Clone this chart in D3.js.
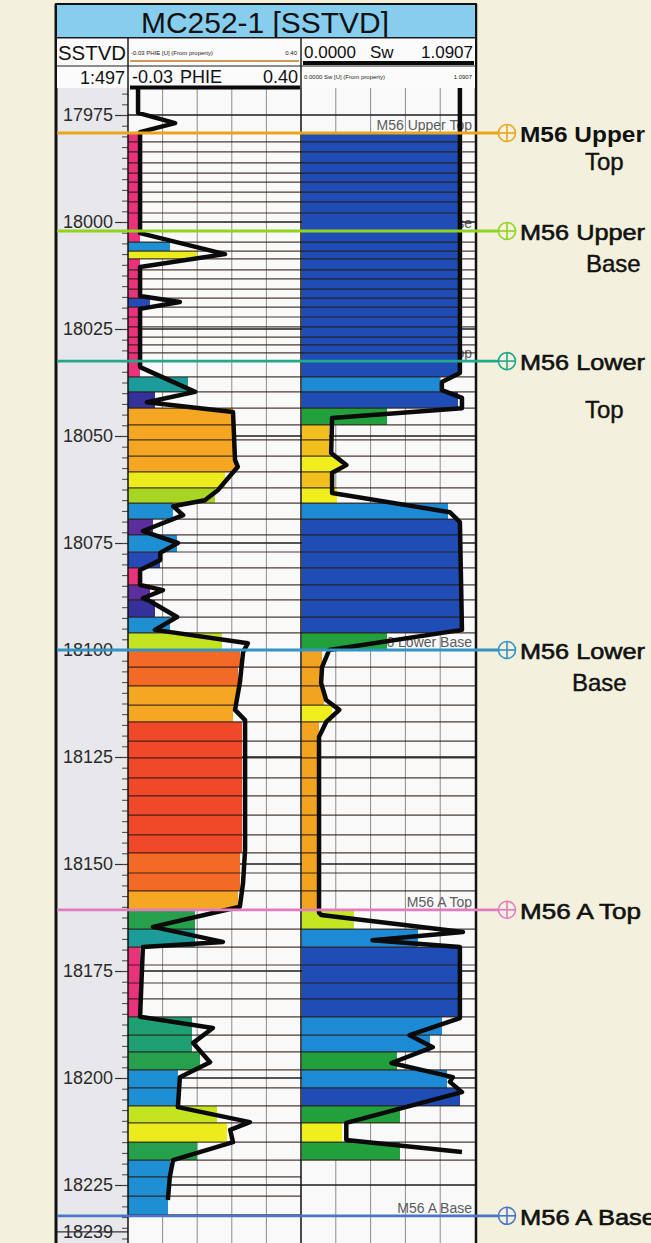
<!DOCTYPE html>
<html>
<head>
<meta charset="utf-8">
<script src="https://cdn.jsdelivr.net/npm/d3@7"></script>
<style>
  html, body { margin: 0; padding: 0; background: #f3f1dd; }
  svg { display: block; font-family: "Liberation Sans", Arial, sans-serif; }
</style>
</head>
<body>
<svg id="chart" width="651" height="1243"></svg>
<script>
// ---------- well MC252-1, zone layers (top depth in ft SSTVD) ----------
const layerTops = [
  17979.2, 17981.3, 17983.6, 17986.2, 17988.6, 17990.7, 17993.0, 17995.3, 17997.9, 18002.1,
  18004.7, 18006.8, 18008.6, 18011.2, 18013.3, 18015.7, 18017.8, 18019.9, 18022.2, 18024.5,
  18026.9, 18028.7, 18030.6, 18032.5, 18036.2, 18039.7, 18043.5, 18047.4, 18050.9, 18054.7,
  18058.4, 18062.1, 18065.7, 18069.4, 18073.1, 18077.1, 18080.8, 18084.8, 18088.3, 18092.3,
  18096.0, 18100.0, 18104.0, 18108.4, 18112.9, 18116.8, 18121.3, 18125.2, 18129.9, 18134.1,
  18138.6, 18143.2, 18147.4, 18152.1, 18156.3, 18160.7, 18165.2, 18169.4, 18173.6, 18177.8,
  18181.5, 18185.7, 18190.0, 18193.9, 18198.1, 18202.3, 18206.5, 18210.5, 18215.0, 18219.2,
  18223.1, 18227.6
];
const layerBase = 18232.0;

// upscaled PHIE per layer and its colour-table bin
const phieLayer = [
  0, 0, 0, 0, 0, 0, 0, 0, 0, 0,
  0.074, 0.142, 0, 0, 0, 0, 0.025, 0, 0, 0,
  0, 0, 0, 0, 0.119, 0.037, 0.231, 0.231, 0.234, 0.236,
  0.211, 0.186, 0.082, 0.032, 0.092, 0.050, 0, 0.025, 0.037, 0.074,
  0.204, 0.248, 0.243, 0.241, 0.231, 0.253, 0.253, 0.253, 0.253, 0.253,
  0.253, 0.253, 0.248, 0.248, 0.243, 0.137, 0.137, 0, 0, 0,
  0, 0.129, 0.129, 0.149, 0.094, 0.094, 0.191, 0.216, 0.142, 0.074,
  0.074, 0.069
];
const phieBin = [
  0, 0, 0, 0, 0, 0, 0, 0, 0, 0,
  4, 10, 0, 0, 0, 0, 3, 0, 0, 0,
  0, 0, 0, 0, 5, 2, 11, 11, 11, 11,
  10, 8, 4, 1, 4, 3, 0, 1, 2, 4,
  9, 12, 12, 11, 11, 13, 13, 13, 13, 13,
  13, 13, 12, 12, 11, 7, 5, 0, 0, 0,
  0, 6, 6, 7, 4, 4, 9, 10, 7, 4,
  4, 4
];

// upscaled Sw per layer and its colour-table bin
const swLayer = [
  0.985, 0.985, 0.985, 0.985, 0.985, 0.985, 0.985, 0.985, 0.985, 0.985,
  0.985, 0.985, 0.985, 0.985, 0.985, 0.985, 0.985, 0.985, 0.985, 0.985,
  0.985, 0.985, 0.985, 0.985, 0.870, 0.985, 0.536, 0.177, 0.177, 0.252,
  0.189, 0.227, 0.920, 0.996, 0.996, 0.996, 0.996, 0.996, 0.996, 0.996,
  0.542, 0.132, 0.132, 0.145, 0.195, 0.113, 0.113, 0.113, 0.113, 0.113,
  0.113, 0.113, 0.113, 0.113, 0.113, 0.334, 0.731, 0.996, 0.996, 0.996,
  0.996, 0.883, 0.807, 0.599, 0.914, 0.996, 0.618, 0.258, 0.618, null,
  null, null
];
const swBin = [
  6, 6, 6, 6, 6, 6, 6, 6, 6, 6,
  6, 6, 6, 6, 6, 6, 6, 6, 6, 6,
  6, 6, 6, 6, 5, 6, 4, 1, 1, 2,
  1, 2, 5, 6, 6, 6, 6, 6, 6, 6,
  4, 0, 0, 0, 2, 0, 0, 0, 0, 0,
  0, 0, 0, 0, 0, 3, 5, 6, 6, 6,
  6, 5, 5, 4, 5, 6, 4, 2, 4, null,
  null, null
];

// PHIE log samples (depth, value)
const phieDepth = [
  17968.7, 17974.5, 17976.9, 17979.0, 18002.6, 18007.5, 18010.5, 18017.3, 18018.7, 18020.3,
  18033.9, 18039.7, 18042.1, 18044.4, 18055.6, 18057.2, 18059.8, 18062.6, 18065.0, 18066.4,
  18068.5, 18072.2, 18075.0, 18077.3, 18079.0, 18081.3, 18084.8, 18086.0, 18087.9, 18088.6,
  18092.3, 18095.3, 18098.4, 18100.5, 18107.7, 18114.0, 18116.4, 18146.7, 18154.4, 18160.0,
  18164.7, 18168.2, 18169.4, 18185.7, 18188.3, 18191.8, 18196.3, 18199.8, 18206.8, 18210.3,
  18212.1, 18215.0, 18219.2, 18223.1, 18228.5
];
const phieValue = [
  -0.005, -0.005, 0.087, 0.0, 0.0, 0.211, 0.0, 0.0, 0.099, 0.0,
  0.0, 0.137, 0.017, 0.231, 0.236, 0.243, 0.219, 0.194, 0.161, 0.082,
  0.107, 0.007, 0.094, 0.050, 0.050, 0.0, 0.0, 0.057, 0.007, 0.025,
  0.092, 0.037, 0.268, 0.256, 0.248, 0.236, 0.261, 0.261, 0.256, 0.248,
  0.032, 0.206, 0.007, 0.0, 0.181, 0.132, 0.174, 0.099, 0.094, 0.273,
  0.224, 0.231, 0.082, 0.074, 0.069
];

// Sw log samples (depth, value)
const swDepth = [
  17968.7, 18035.3, 18037.4, 18039.3, 18041.1, 18043.5, 18045.8, 18054.0, 18056.8, 18058.6,
  18063.3, 18067.8, 18070.1, 18095.3, 18100.0, 18104.0, 18107.7, 18111.7, 18114.0, 18116.8,
  18120.3, 18161.4, 18161.9, 18165.9, 18167.8, 18169.4, 18186.0, 18190.0, 18192.8, 18196.5,
  18199.8, 18200.9, 18203.3, 18210.5, 18214.5, 18217.3
];
const swValue = [
  0.996, 0.996, 0.883, 0.883, 1.009, 1.009, 0.195, 0.189, 0.284, 0.195,
  0.195, 0.933, 0.996, 1.009, 0.177, 0.132, 0.126, 0.158, 0.240, 0.158,
  0.113, 0.113, 0.126, 1.015, 0.448, 0.996, 0.996, 0.681, 0.826, 0.567,
  0.952, 0.933, 1.009, 0.284, 0.284, 1.009
];

// well tops
const topNames  = ["M56 Upper Top", "M56 Upper Base", "M56 Lower Top", "M56 Lower Base", "M56 A Top", "M56 A Base"];
const topDepths = [17979.2, 18002.1, 18032.5, 18100.0, 18160.7, 18232.2];

// depth axis
const depthTicks = [17975, 18000, 18025, 18050, 18075, 18100, 18125, 18150, 18175, 18200, 18225];
const depthBottom = 18239;

// ---------- colour tables ----------
const phiePalette = ["#e8327c", "#5b2e9c", "#35309a", "#2649b5", "#1e8fd2", "#1b9c9a", "#1fa074",
                     "#26a04c", "#a9d623", "#c4e41f", "#ecec1c", "#f5a623", "#f26a25", "#f0492a"];
const swPalette = ["#f2a420", "#f2c01e", "#f0ee1c", "#c4e622", "#22a03c", "#1d8ad6", "#1f4db5"];
const topColors = ["#e9a51c", "#8fd41e", "#22a88a", "#3394c6", "#e27cc0", "#4a76c6"];

const phieColor = d3.scaleOrdinal().domain(d3.range(phiePalette.length)).range(phiePalette);
const swColor = d3.scaleOrdinal().domain(d3.range(swPalette.length)).range(swPalette);
const topColor = d3.scaleOrdinal().domain(topNames).range(topColors);

// ---------- layout ----------
const frameL = 56, frameR = 476;
const depthL = 57, depthR = 128;
const phieL = 128, phieR = 301;
const swL = 301, swR = 475;
const trackTop = 88, trackBottom = 1243;

const y = d3.scaleLinear().domain([17975, 18225]).range([115, 1185]);
const xPhie = d3.scaleLinear().domain([-0.03, 0.40]).range([phieL, phieR]);
const xSw = d3.scaleLinear().domain([0, 1.0907]).range([swL, swR]);

const layers = layerTops.map((t, i) => ({
  top: t,
  base: i < layerTops.length - 1 ? layerTops[i + 1] : layerBase,
  phie: phieLayer[i], phieBin: phieBin[i],
  sw: swLayer[i], swBin: swBin[i]
}));
const phieLog = phieDepth.map((d, i) => ({ d, v: phieValue[i] }));
const swLog = swDepth.map((d, i) => ({ d, v: swValue[i] }));
const tops = topNames.map((n, i) => ({ name: n, depth: topDepths[i] }));

const svg = d3.select("#chart");

// page background
svg.append("rect").attr("width", 651).attr("height", 1243).attr("fill", "#f3f1dd");

// track backgrounds
svg.append("rect").attr("x", depthL).attr("y", trackTop).attr("width", depthR - depthL)
  .attr("height", trackBottom - trackTop).attr("fill", "#e8e8ec");
svg.append("rect").attr("x", phieL).attr("y", trackTop).attr("width", swR - phieL)
  .attr("height", trackBottom - trackTop).attr("fill", "#f9f9fa");

// vertical grid
const grid = svg.append("g").attr("stroke", "#8c8c8c").attr("stroke-width", 1);
grid.selectAll(".gp").data(d3.range(1, 5)).join("line")
  .attr("x1", i => phieL + (phieR - phieL) * i / 5).attr("x2", i => phieL + (phieR - phieL) * i / 5)
  .attr("y1", trackTop).attr("y2", trackBottom);
grid.selectAll(".gs").data(d3.range(1, 5)).join("line")
  .attr("x1", i => swL + (swR - swL) * i / 5).attr("x2", i => swL + (swR - swL) * i / 5)
  .attr("y1", trackTop).attr("y2", trackBottom);

// well-top names inside the Sw track
svg.append("g").selectAll("text").data(tops).join("text")
  .attr("x", swR - 3).attr("y", d => y(d.depth) - 3)
  .attr("text-anchor", "end").attr("font-size", 14).attr("fill", "#5c5c5c")
  .text(d => d.name);

// depth grid lines across the tracks
svg.append("g").selectAll("line").data(depthTicks).join("line")
  .attr("x1", phieL).attr("x2", swR)
  .attr("y1", d => y(d)).attr("y2", d => y(d))
  .attr("stroke", "#1c1c1c").attr("stroke-width", 1.4);

// layer fills
const fills = svg.append("g").attr("shape-rendering", "crispEdges");
fills.selectAll(".fp").data(layers).join("rect")
  .attr("x", phieL).attr("y", d => y(d.top))
  .attr("width", d => xPhie(d.phie) - phieL)
  .attr("height", d => y(d.base) - y(d.top))
  .attr("fill", d => phieColor(d.phieBin));
fills.selectAll(".fs").data(layers.filter(d => d.sw !== null)).join("rect")
  .attr("x", swL + 1).attr("y", d => y(d.top))
  .attr("width", d => xSw(d.sw) - swL - 1)
  .attr("height", d => y(d.base) - y(d.top))
  .attr("fill", d => swColor(d.swBin));

// layer boundaries
const lb = svg.append("g").attr("stroke", "#2a1a10").attr("stroke-opacity", 0.85).attr("stroke-width", 1.2);
const phieEdges = Array.from(new Set(layers.flatMap(d => [d.top, d.base])));
const swEdges = Array.from(new Set(layers.filter(d => d.sw !== null).flatMap(d => [d.top, d.base])));
lb.selectAll(".lp").data(phieEdges).join("line")
  .attr("x1", phieL).attr("x2", phieR).attr("y1", d => y(d)).attr("y2", d => y(d));
lb.selectAll(".ls").data(swEdges).join("line")
  .attr("x1", swL).attr("x2", swR).attr("y1", d => y(d)).attr("y2", d => y(d));

// logs
svg.append("path").datum(phieLog)
  .attr("d", d3.line().x(d => xPhie(d.v)).y(d => y(d.d)))
  .attr("fill", "none").attr("stroke", "#0a0a0a").attr("stroke-width", 4.5).attr("stroke-linejoin", "round");
svg.append("path").datum(swLog)
  .attr("d", d3.line().x(d => xSw(d.v)).y(d => y(d.d)))
  .attr("fill", "none").attr("stroke", "#0a0a0a").attr("stroke-width", 4.5).attr("stroke-linejoin", "round");

// depth axis
const axis = svg.append("g").attr("transform", `translate(${depthR},0)`)
  .call(d3.axisLeft(y).tickValues(depthTicks).tickSize(13).tickPadding(2).tickFormat(d3.format("d")));
axis.select(".domain").remove();
axis.selectAll("line").attr("stroke", "#333").attr("stroke-width", 1.2);
axis.selectAll("text").attr("font-size", 18).attr("fill", "#2a2a2a")
  .attr("font-family", "Liberation Sans, Arial, sans-serif");
const minor = svg.append("g").attr("transform", `translate(${depthR},0)`)
  .call(d3.axisLeft(y).tickValues(d3.range(17967.5, depthBottom, 2.5)).tickSize(6).tickFormat(""));
minor.select(".domain").remove();
minor.selectAll("line").attr("stroke", "#444").attr("stroke-width", 1);

// bottom depth label
const yb = y(depthBottom) - 13;
svg.append("line").attr("x1", depthL).attr("x2", depthR).attr("y1", yb).attr("y2", yb)
  .attr("stroke", "#333").attr("stroke-width", 1.2);
svg.append("text").attr("x", depthR - 15).attr("y", yb).attr("dy", "0.32em")
  .attr("text-anchor", "end").attr("font-size", 18).attr("fill", "#2a2a2a").text(depthBottom);

// frame and track separators
const frame = svg.append("g").attr("stroke", "#111").attr("fill", "none");
frame.append("line").attr("x1", frameL).attr("x2", frameL).attr("y1", 4).attr("y2", 1243).attr("stroke-width", 3);
frame.append("line").attr("x1", frameR).attr("x2", frameR).attr("y1", 4).attr("y2", 1243).attr("stroke-width", 2.5);
frame.append("line").attr("x1", phieL).attr("x2", phieL).attr("y1", 38).attr("y2", 1243).attr("stroke-width", 1.5);
frame.append("line").attr("x1", swL).attr("x2", swL).attr("y1", 38).attr("y2", 1243).attr("stroke-width", 1.5);

// header
const head = svg.append("g");
head.append("rect").attr("x", frameL).attr("y", 4).attr("width", frameR - frameL).attr("height", 34)
  .attr("fill", "#87cdee").attr("stroke", "#111").attr("stroke-width", 2);
head.append("text").attr("x", 265).attr("y", 33).attr("text-anchor", "middle")
  .attr("font-size", 30).attr("fill", "#111").attr("textLength", 248).attr("lengthAdjust", "spacingAndGlyphs")
  .text("MC252-1 [SSTVD]");
head.append("rect").attr("x", frameL + 1).attr("y", 38).attr("width", frameR - frameL - 2).attr("height", 50)
  .attr("fill", "#fbfbfb");
[38, 66].forEach(v => head.append("line").attr("x1", frameL).attr("x2", frameR).attr("y1", v).attr("y2", v)
  .attr("stroke", "#222").attr("stroke-width", 1.2));
[phieL, swL].forEach(v => head.append("line").attr("x1", v).attr("x2", v).attr("y1", 38).attr("y2", 88)
  .attr("stroke", "#222").attr("stroke-width", 1.5));

head.append("text").attr("x", 92).attr("y", 60).attr("text-anchor", "middle").attr("font-size", 20)
  .attr("textLength", 68).attr("lengthAdjust", "spacingAndGlyphs").attr("fill", "#111").text("SSTVD");
head.append("text").attr("x", 125).attr("y", 84).attr("text-anchor", "end").attr("font-size", 18)
  .attr("fill", "#111").text("1:497");

// PHIE header
head.append("text").attr("x", 131).attr("y", 55).attr("font-size", 6).attr("fill", "#222")
  .text("-0.03  PHIE [U]  (From property)");
head.append("text").attr("x", 297).attr("y", 55).attr("text-anchor", "end").attr("font-size", 6)
  .attr("fill", "#222").text("0.40");
head.append("line").attr("x1", phieL + 2).attr("x2", phieR - 2).attr("y1", 61).attr("y2", 61)
  .attr("stroke", "#b9782a").attr("stroke-width", 1.5);
head.append("text").attr("x", 132).attr("y", 83).attr("font-size", 18).attr("fill", "#111").text("-0.03");
head.append("text").attr("x", 180).attr("y", 83).attr("font-size", 18).attr("fill", "#111").text("PHIE");
head.append("text").attr("x", 298).attr("y", 83).attr("text-anchor", "end").attr("font-size", 18)
  .attr("fill", "#111").text("0.40");
head.append("line").attr("x1", phieL + 2).attr("x2", phieR - 1).attr("y1", 87.5).attr("y2", 87.5)
  .attr("stroke", "#0a0a0a").attr("stroke-width", 4);

// Sw header
head.append("text").attr("x", 304).attr("y", 58).attr("font-size", 17).attr("fill", "#111").text("0.0000");
head.append("text").attr("x", 370).attr("y", 58).attr("font-size", 17).attr("fill", "#111").text("Sw");
head.append("text").attr("x", 473).attr("y", 58).attr("text-anchor", "end").attr("font-size", 17)
  .attr("fill", "#111").text("1.0907");
head.append("line").attr("x1", swL + 2).attr("x2", swR - 1).attr("y1", 63).attr("y2", 63)
  .attr("stroke", "#0a0a0a").attr("stroke-width", 4);
head.append("text").attr("x", 304).attr("y", 79).attr("font-size", 6).attr("fill", "#222")
  .text("0.0000  Sw [U]  (From property)");
head.append("text").attr("x", 472).attr("y", 79).attr("text-anchor", "end").attr("font-size", 6)
  .attr("fill", "#222").text("1.0907");

// well-top lines, markers and names
const markerX = 507;
const topLabels = [
  { l1: "M56 Upper", l2: "Top",  dx2: 585, dy2: 37, w1: 125, bold: true },
  { l1: "M56 Upper", l2: "Base", dx2: 586, dy2: 41, w1: 125, bold: false },
  { l1: "M56 Lower", l2: "Top",  dx2: 585, dy2: 57, w1: 125, bold: false },
  { l1: "M56 Lower", l2: "Base", dx2: 572, dy2: 41, w1: 125, bold: false },
  { l1: "M56 A Top", l2: null,   dx2: 0,   dy2: 0,  w1: 121, bold: false },
  { l1: "M56 A Base", l2: null,  dx2: 0,   dy2: 0,  w1: 136, bold: false }
];
const tg = svg.append("g").selectAll("g").data(tops).join("g")
  .attr("transform", d => `translate(0,${y(d.depth)})`);
tg.append("line").attr("x1", depthL).attr("x2", markerX - 8).attr("y1", 0).attr("y2", 0)
  .attr("stroke", d => topColor(d.name)).attr("stroke-width", 2.8);
tg.append("circle").attr("cx", markerX).attr("cy", 0).attr("r", 8.5)
  .attr("fill", "#f6f2df").attr("fill-opacity", 0.6)
  .attr("stroke", d => topColor(d.name)).attr("stroke-width", 1.6);
tg.append("line").attr("x1", markerX - 8.5).attr("x2", markerX + 8.5).attr("y1", 0).attr("y2", 0)
  .attr("stroke", d => topColor(d.name)).attr("stroke-width", 1.6);
tg.append("line").attr("x1", markerX).attr("x2", markerX).attr("y1", -8.5).attr("y2", 8.5)
  .attr("stroke", d => topColor(d.name)).attr("stroke-width", 1.6);
tg.append("text").attr("x", 520).attr("y", 9)
  .attr("font-size", 22).attr("fill", "#111")
  .attr("font-weight", (d, i) => topLabels[i].bold ? 700 : 400)
  .attr("stroke", "#111").attr("stroke-width", (d, i) => topLabels[i].bold ? 0 : 0.6)
  .attr("textLength", (d, i) => topLabels[i].w1).attr("lengthAdjust", "spacingAndGlyphs")
  .text((d, i) => topLabels[i].l1);
tg.filter((d, i) => topLabels[i].l2 !== null).append("text")
  .attr("x", d => topLabels[topNames.indexOf(d.name)].dx2)
  .attr("y", d => topLabels[topNames.indexOf(d.name)].dy2)
  .attr("font-size", 24).attr("fill", "#111").attr("stroke", "#111").attr("stroke-width", 0.4)
  .text(d => topLabels[topNames.indexOf(d.name)].l2);
</script>
</body>
</html>
